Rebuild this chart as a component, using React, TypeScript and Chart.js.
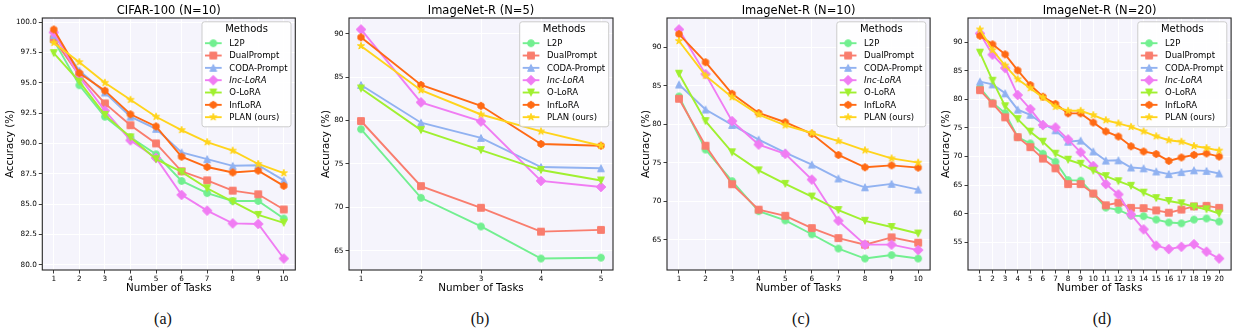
import React, { useEffect, useRef } from 'react';
import { Chart, registerables } from 'chart.js';

Chart.register(...registerables);

// ---------- data ----------
const methods = ['L2P', 'DualPrompt', 'CODA-Prompt', 'Inc-LoRA', 'O-LoRA', 'InfLoRA', 'PLAN (ours)'];

const tasks10 = [1, 2, 3, 4, 5, 6, 7, 8, 9, 10];
const tasks5 = [1, 2, 3, 4, 5];
const tasks20 = [1, 2, 3, 4, 5, 6, 7, 8, 9, 10, 11, 12, 13, 14, 15, 16, 17, 18, 19, 20];

// (a) CIFAR-100 (N=10)
const a_L2P = [98.5, 94.8, 92.2, 90.5, 89.1, 86.9, 85.9, 85.25, 85.25, 83.8];
const a_DualPrompt = [98.6, 95.6, 93.3, 91.5, 90.0, 87.7, 86.95, 86.1, 85.8, 84.55];
const a_CODA = [98.95, 96.0, 94.2, 92.2, 91.2, 89.25, 88.7, 88.15, 88.2, 86.95];
const a_IncLoRA = [99.15, 95.5, 92.7, 90.25, 88.8, 85.75, 84.45, 83.4, 83.35, 80.5];
const a_OLoRA = [97.45, 95.1, 92.35, 90.5, 88.7, 87.65, 86.3, 85.2, 84.1, 83.45];
const a_InfLoRA = [99.4, 95.8, 94.35, 92.4, 91.4, 88.9, 88.05, 87.6, 87.75, 86.5];
const a_PLAN = [98.3, 96.7, 95.0, 93.6, 92.2, 91.1, 90.1, 89.4, 88.3, 87.55];
const a_yTicks = [80.0, 82.5, 85.0, 87.5, 90.0, 92.5, 95.0, 97.5, 100.0];

// (b) ImageNet-R (N=5)
const b_L2P = [79.0, 71.1, 67.8, 64.1, 64.2];
const b_DualPrompt = [79.95, 72.45, 69.95, 67.2, 67.4];
const b_CODA = [84.1, 79.75, 78.0, 74.65, 74.5];
const b_IncLoRA = [90.5, 82.1, 79.9, 73.05, 72.35];
const b_OLoRA = [83.7, 78.9, 76.6, 74.3, 73.1];
const b_InfLoRA = [89.6, 84.1, 81.7, 77.3, 77.1];
const b_PLAN = [88.6, 83.5, 80.7, 78.75, 77.1];
const b_yTicks = [65, 70, 75, 80, 85, 90];

// (c) ImageNet-R (N=10)
const c_L2P = [83.6, 76.7, 72.6, 68.7, 67.5, 65.7, 63.85, 62.55, 63.0, 62.55];
const c_DualPrompt = [83.3, 77.2, 72.2, 68.9, 68.1, 66.5, 65.2, 64.35, 65.3, 64.6];
const c_CODA = [85.15, 81.9, 79.9, 78.0, 76.3, 74.75, 72.95, 71.8, 72.25, 71.5];
const c_IncLoRA = [92.3, 86.5, 80.4, 77.35, 76.15, 72.8, 67.45, 64.35, 64.35, 63.65];
const c_OLoRA = [86.55, 80.4, 76.35, 74.0, 72.25, 70.6, 68.85, 67.45, 66.65, 65.8];
const c_InfLoRA = [91.7, 88.05, 83.95, 81.45, 80.25, 78.75, 76.0, 74.4, 74.65, 74.35];
const c_PLAN = [90.8, 86.3, 83.5, 81.25, 79.85, 78.85, 77.8, 76.6, 75.55, 75.0];
const c_yTicks = [65, 70, 75, 80, 85, 90];

// (d) ImageNet-R (N=20)
const d_L2P = [82.0, 79.4, 77.6, 73.4, 72.3, 70.5, 69.1, 65.9, 65.8, 63.5, 61.1, 60.7, 59.7, 59.6, 59.0, 58.5, 58.35, 59.0, 59.2, 58.65];
const d_DualPrompt = [81.6, 79.25, 76.85, 73.4, 71.65, 69.65, 67.95, 65.2, 65.2, 63.55, 61.5, 61.95, 61.05, 61.0, 60.6, 60.2, 60.75, 61.3, 61.4, 61.05];
const d_CODA = [83.1, 82.6, 81.05, 78.2, 77.3, 75.7, 74.6, 72.6, 72.8, 70.9, 69.3, 69.35, 68.1, 67.95, 67.4, 66.95, 67.3, 67.6, 67.5, 67.05];
const d_IncLoRA = [91.5, 87.8, 85.45, 80.75, 78.3, 75.5, 75.1, 73.0, 70.75, 68.35, 65.2, 63.4, 59.9, 57.3, 54.45, 53.85, 54.25, 54.7, 53.4, 52.2];
const d_OLoRA = [88.15, 83.25, 78.8, 76.55, 74.35, 72.6, 70.5, 69.45, 68.75, 67.55, 66.6, 65.7, 64.9, 63.7, 62.75, 62.25, 61.85, 61.25, 60.8, 60.05];
const d_InfLoRA = [91.1, 89.6, 87.85, 85.05, 82.5, 80.45, 79.2, 77.55, 77.55, 75.95, 74.4, 73.5, 71.8, 70.9, 70.45, 69.25, 69.85, 70.3, 70.55, 70.0];
const d_PLAN = [92.2, 88.6, 85.9, 83.5, 81.95, 80.3, 78.7, 78.0, 78.0, 77.25, 76.35, 75.8, 75.2, 74.4, 73.55, 72.85, 72.6, 71.85, 71.5, 71.05];
const d_yTicks = [55, 60, 65, 70, 75, 80, 85, 90];

// ---------- styles ----------
const COLORS = ['#72ef90', '#f97d6e', '#91b2f1', '#f07cf3', '#a0f030', '#ff6a14', '#ffd41c'];
const SHAPES = ['circle', 'square', 'triangle', 'diamond', 'triangleDown', 'hexagon', 'star'];
const FONT = '"DejaVu Sans", sans-serif';
const MS = 6.8;
const TXT = '#000';

function makeMarker(shape: string, color: string): HTMLCanvasElement {
  const S = 18;
  const c = document.createElement('canvas');
  c.width = S;
  c.height = S;
  const g = c.getContext('2d')!;
  g.translate(S / 2, S / 2);
  const h = MS / 2;
  g.beginPath();
  if (shape === 'circle') {
    g.arc(0, 0, h, 0, Math.PI * 2);
  } else if (shape === 'square') {
    g.rect(-h, -h, 2 * h, 2 * h);
  } else if (shape === 'triangle') {
    g.moveTo(0, -h); g.lineTo(-h, h); g.lineTo(h, h); g.closePath();
  } else if (shape === 'triangleDown') {
    g.moveTo(0, h); g.lineTo(-h, -h); g.lineTo(h, -h); g.closePath();
  } else if (shape === 'diamond') {
    const d = h * Math.SQRT2;
    g.moveTo(0, -d); g.lineTo(d, 0); g.lineTo(0, d); g.lineTo(-d, 0); g.closePath();
  } else if (shape === 'hexagon') {
    for (let k = 0; k < 6; k++) {
      const a = -Math.PI / 2 + (k * Math.PI) / 3;
      const px = Math.cos(a) * h * 1.05, py = Math.sin(a) * h * 1.05;
      if (k === 0) g.moveTo(px, py); else g.lineTo(px, py);
    }
    g.closePath();
  } else if (shape === 'star') {
    const R = h * 1.1, r = R * 0.381966;
    for (let k = 0; k < 10; k++) {
      const a = -Math.PI / 2 + (k * Math.PI) / 5;
      const rr = k % 2 === 0 ? R : r;
      const px = Math.cos(a) * rr, py = Math.sin(a) * rr;
      if (k === 0) g.moveTo(px, py); else g.lineTo(px, py);
    }
    g.closePath();
  }
  g.fillStyle = color;
  g.fill();
  g.strokeStyle = color;
  g.lineWidth = 1;
  g.lineJoin = 'miter';
  g.stroke();
  return c;
}

type PanelCfg = {
  title: string;
  xs: number[];
  series: number[][];
  yTicks: number[];
  yMin: number;
  yMax: number;
  yDecimals: number;
  left: number;
  width: number;
  yW: number;
  padR: number;
  caption: string;
  capX: number;
};

const panels: PanelCfg[] = [
  {
    title: 'CIFAR-100 (N=10)', xs: tasks10,
    series: [a_L2P, a_DualPrompt, a_CODA, a_IncLoRA, a_OLoRA, a_InfLoRA, a_PLAN],
    yTicks: a_yTicks, yMin: 79.555, yMax: 100.345, yDecimals: 1,
    left: 0, width: 316, yW: 42.3, padR: 20.7, caption: '(a)', capX: 163,
  },
  {
    title: 'ImageNet-R (N=5)', xs: tasks5,
    series: [b_L2P, b_DualPrompt, b_CODA, b_IncLoRA, b_OLoRA, b_InfLoRA, b_PLAN],
    yTicks: b_yTicks, yMin: 62.78, yMax: 91.82, yDecimals: 0,
    left: 316, width: 320, yW: 33, padR: 23, caption: '(b)', capX: 480,
  },
  {
    title: 'ImageNet-R (N=10)', xs: tasks10,
    series: [c_L2P, c_DualPrompt, c_CODA, c_IncLoRA, c_OLoRA, c_InfLoRA, c_PLAN],
    yTicks: c_yTicks, yMin: 61.06, yMax: 93.79, yDecimals: 0,
    left: 636, width: 300, yW: 31, padR: 5, caption: '(c)', capX: 801,
  },
  {
    title: 'ImageNet-R (N=20)', xs: tasks20,
    series: [d_L2P, d_DualPrompt, d_CODA, d_IncLoRA, d_OLoRA, d_InfLoRA, d_PLAN],
    yTicks: d_yTicks, yMin: 50.2, yMax: 94.2, yDecimals: 0,
    left: 936, width: 301, yW: 32, padR: 5, caption: '(d)', capX: 1102,
  },
];

const H = 300;

function Panel({ cfg }: { cfg: PanelCfg }) {
  const ref = useRef<HTMLCanvasElement>(null);
  useEffect(() => {
    const markerImgs = SHAPES.map((s, i) => makeMarker(s, COLORS[i]));
    const n = cfg.xs.length;
    const m = (n - 1) * 0.05;

    const bgFrame = {
      id: 'bgFrame',
      beforeDraw(chart: any) {
        const { ctx, chartArea: a } = chart;
        ctx.save();
        ctx.fillStyle = '#f5f4fc';
        ctx.fillRect(a.left, a.top, a.right - a.left, a.bottom - a.top);
        ctx.restore();
      },
      afterDatasetsDraw(chart: any) {
        const { ctx, chartArea: a } = chart;
        ctx.save();
        ctx.strokeStyle = '#262626';
        ctx.lineWidth = 1.1;
        ctx.strokeRect(a.left, a.top, a.right - a.left, a.bottom - a.top);
        ctx.restore();
      },
    };

    const insideLegend = {
      id: 'insideLegend',
      afterDraw(chart: any) {
        const { ctx, chartArea: a } = chart;
        ctx.save();
        const fontN = `8.5px ${FONT}`;
        const fontI = `italic 8.5px ${FONT}`;
        let maxW = 0;
        methods.forEach((t, i) => {
          ctx.font = i === 3 ? fontI : fontN;
          maxW = Math.max(maxW, ctx.measureText(t).width);
        });
        const boxW = 27.3 + maxW + 3.5;
        const boxH = 105;
        const x0 = a.right - 4.3 - boxW;
        const y0 = a.top + 3.8;
        const r = 2.5;
        ctx.beginPath();
        ctx.moveTo(x0 + r, y0);
        ctx.lineTo(x0 + boxW - r, y0);
        ctx.quadraticCurveTo(x0 + boxW, y0, x0 + boxW, y0 + r);
        ctx.lineTo(x0 + boxW, y0 + boxH - r);
        ctx.quadraticCurveTo(x0 + boxW, y0 + boxH, x0 + boxW - r, y0 + boxH);
        ctx.lineTo(x0 + r, y0 + boxH);
        ctx.quadraticCurveTo(x0, y0 + boxH, x0, y0 + boxH - r);
        ctx.lineTo(x0, y0 + r);
        ctx.quadraticCurveTo(x0, y0, x0 + r, y0);
        ctx.closePath();
        ctx.fillStyle = 'rgba(255,255,255,0.85)';
        ctx.fill();
        ctx.strokeStyle = '#cccccc';
        ctx.lineWidth = 1;
        ctx.stroke();
        ctx.fillStyle = TXT;
        ctx.font = `10px ${FONT}`;
        ctx.textAlign = 'center';
        ctx.textBaseline = 'middle';
        ctx.fillText('Methods', x0 + boxW / 2, y0 + 7.6);
        ctx.textAlign = 'left';
        methods.forEach((t, i) => {
          const yy = y0 + 21.4 + i * 12.33;
          ctx.strokeStyle = COLORS[i];
          ctx.lineWidth = 1.9;
          ctx.beginPath();
          ctx.moveTo(x0 + 3, yy);
          ctx.lineTo(x0 + 19.7, yy);
          ctx.stroke();
          const img = markerImgs[i];
          ctx.drawImage(img, x0 + 11.3 - img.width / 2, yy - img.height / 2);
          ctx.font = i === 3 ? fontI : fontN;
          ctx.fillStyle = TXT;
          ctx.fillText(t, x0 + 27.3, yy + 0.5);
        });
        ctx.restore();
      },
    };

    const datasets = cfg.series.map((vals, i) => ({
      label: methods[i],
      data: vals.map((v, j) => ({ x: cfg.xs[j], y: v })),
      borderColor: COLORS[i],
      backgroundColor: COLORS[i],
      borderWidth: 1.9,
      pointStyle: markerImgs[i] as any,
      pointRadius: 4,
      pointHoverRadius: 4,
      tension: 0,
      fill: false,
      order: 6 - i,
      clip: false as any,
    }));

    const chart = new Chart(ref.current!, {
      type: 'line',
      data: { datasets },
      plugins: [bgFrame, insideLegend],
      options: {
        responsive: false,
        maintainAspectRatio: false,
        animation: false,
        events: [],
        layout: { padding: { left: 0, right: cfg.padR, top: 0, bottom: 0 } },
        plugins: {
          legend: { display: false },
          tooltip: { enabled: false },
          title: {
            display: true,
            text: cfg.title,
            fullSize: false,
            color: TXT,
            font: { family: FONT, size: 11.5, weight: 'normal' as any },
            padding: { top: 4.1, bottom: 0.1 },
          },
        },
        scales: {
          x: {
            type: 'linear',
            min: cfg.xs[0] - m,
            max: cfg.xs[n - 1] + m,
            afterBuildTicks: (s: any) => {
              s.ticks = cfg.xs.map((v) => ({ value: v }));
            },
            afterFit: (s: any) => {
              s.height = 30;
            },
            ticks: {
              autoSkip: false,
              maxRotation: 0,
              padding: 1,
              color: TXT,
              font: { family: FONT, size: 7.3 },
              callback: (v: any) => String(v),
            },
            grid: {
              color: '#ffffff',
              lineWidth: 1,
              tickLength: 3.5,
              tickColor: '#262626',
              tickWidth: 0.9,
            },
            border: { display: false },
            title: {
              display: true,
              text: 'Number of Tasks',
              color: TXT,
              font: { family: FONT, size: 10.3 },
              padding: { top: 0, bottom: 5.8 },
            },
          },
          y: {
            type: 'linear',
            min: cfg.yMin,
            max: cfg.yMax,
            afterBuildTicks: (s: any) => {
              s.ticks = cfg.yTicks.map((v) => ({ value: v }));
            },
            afterFit: (s: any) => {
              s.width = cfg.yW;
            },
            ticks: {
              autoSkip: false,
              padding: 2,
              color: TXT,
              font: { family: FONT, size: 7.3 },
              callback: (v: any) => Number(v).toFixed(cfg.yDecimals),
            },
            grid: {
              color: '#ffffff',
              lineWidth: 1,
              tickLength: 3.5,
              tickColor: '#262626',
              tickWidth: 0.9,
            },
            border: { display: false },
            title: {
              display: true,
              text: 'Accuracy (%)',
              color: TXT,
              font: { family: FONT, size: 10.3 },
              padding: { top: 4.3, bottom: 0 },
            },
          },
        },
      } as any,
    });
    return () => chart.destroy();
  }, [cfg]);

  return (
    <canvas
      ref={ref}
      width={cfg.width}
      height={H}
      style={{ position: 'absolute', left: cfg.left, top: 0, width: cfg.width, height: H }}
    />
  );
}

export default function App() {
  return (
    <div style={{ position: 'absolute', left: 0, top: 0, width: 1237, height: 330, background: '#fff', overflow: 'hidden' }}>
      {panels.map((p) => (
        <Panel key={p.caption} cfg={p} />
      ))}
      {panels.map((p) => (
        <div
          key={'cap' + p.caption}
          style={{
            position: 'absolute',
            left: p.capX,
            top: 319,
            transform: 'translate(-50%, -50%)',
            fontFamily: '"Liberation Serif", "Times New Roman", serif',
            fontSize: 16,
            color: '#111',
            whiteSpace: 'nowrap',
          }}
        >
          {p.caption}
        </div>
      ))}
    </div>
  );
}
